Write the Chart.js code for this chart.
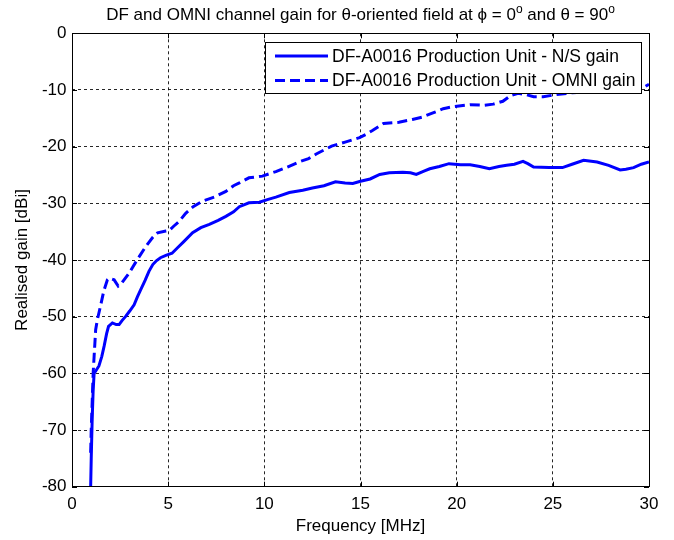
<!DOCTYPE html>
<html>
<head>
<meta charset="utf-8">
<script src="https://cdn.jsdelivr.net/npm/chart.js@4.4.1/dist/chart.umd.min.js"></script>
<style>
html,body{margin:0;padding:0;background:#fff;}
#wrap{width:674px;height:540px;}
</style>
</head>
<body>
<div id="wrap"><canvas id="c" width="674" height="540"></canvas></div>
<script>
// title pieces: [text, isSuperscript]
const titleParts = [['DF and OMNI channel gain for \u03B8-oriented field at \u03D5 = 0', false], ['o', true], [' and \u03B8 = 90', false], ['o', true]];
const xTitle = 'Frequency [MHz]';
const yTitle = 'Realised gain [dBi]';
const seriesLabels = ['DF-A0016 Production Unit - N/S gain', 'DF-A0016 Production Unit - OMNI gain'];
const xTicks = [0, 5, 10, 15, 20, 25, 30];
const yTicks = [-80, -70, -60, -50, -40, -30, -20, -10, 0];

const nsFreq = [0.97,1.0,1.05,1.1,1.15,1.25,1.4,1.55,1.67,1.8,1.9,2.1,2.3,2.45,2.6,2.8,3.0,3.23,3.4,3.58,3.8,4.0,4.2,4.4,4.6,4.88,5.2,5.5,5.8,6.27,6.7,7.14,7.6,8.0,8.4,8.7,9.2,9.74,10.2,10.6,11.3,12.0,12.5,13.1,13.7,14.2,14.6,15.0,15.5,16.0,16.5,17.2,17.6,17.9,18.3,18.6,19.1,19.6,20.2,20.7,21.2,21.7,22.2,22.6,23.0,23.45,23.7,24.0,24.8,25.5,26.0,26.6,27.3,27.9,28.5,28.8,29.2,29.6,30.0];
const nsGain = [-80,-75,-68,-63,-60,-59.5,-58.7,-57,-55.2,-53,-51.7,-51.1,-51.4,-51.4,-50.7,-49.9,-49,-47.9,-46.5,-45.2,-43.6,-42,-40.8,-40.1,-39.6,-39.2,-38.8,-37.8,-36.8,-35.2,-34.3,-33.7,-33,-32.3,-31.5,-30.6,-29.9,-29.8,-29.3,-28.9,-28.1,-27.7,-27.3,-26.9,-26.2,-26.4,-26.5,-26.1,-25.7,-24.9,-24.6,-24.5,-24.6,-24.9,-24.3,-23.9,-23.5,-23.0,-23.2,-23.2,-23.5,-23.9,-23.5,-23.3,-23.1,-22.6,-23.0,-23.6,-23.7,-23.7,-23.1,-22.4,-22.7,-23.3,-24.1,-24.0,-23.7,-23.1,-22.7];

const omniFreq = [0.97,1.0,1.06,1.1,1.15,1.23,1.32,1.49,1.65,1.84,1.93,2.19,2.4,2.6,2.97,3.4,3.84,4.2,4.45,4.88,5.05,5.3,5.57,5.9,6.3,6.8,7.4,8.0,8.4,8.7,9.2,9.9,10.6,11.2,11.8,12.3,12.7,13.1,13.5,14.2,14.95,15.3,15.6,16.2,17.0,17.7,18.2,18.8,19.3,19.9,20.7,21.4,21.9,22.4,22.8,23.2,23.6,24.0,24.5,25.2,26.0,27.0,28.0,29.0,29.6,30.0];
const omniGain = [-74,-70,-64,-60,-57,-52.3,-50.5,-48,-45.5,-43.5,-43.2,-43.5,-44.6,-44,-42.3,-39.9,-37.6,-36,-35.2,-34.9,-34.8,-34,-33.2,-31.8,-30.6,-29.6,-28.9,-27.9,-26.9,-26.4,-25.5,-25.2,-24.4,-23.6,-22.7,-22.1,-21.3,-20.6,-19.9,-19.2,-18.4,-17.8,-17.2,-15.9,-15.7,-15.2,-14.8,-14.0,-13.3,-12.9,-12.6,-12.7,-12.5,-12.0,-11.0,-10.6,-10.8,-11.2,-11.2,-10.8,-10.5,-10.3,-10.0,-9.8,-9.8,-9.0];

const FONT = '"Liberation Sans", Arial, Helvetica, sans-serif';
const BLUE = '#0000ff';

function pts(xs, ys){ return xs.map((x,i)=>({x:x, y:ys[i]})); }

const frameAndLegend = {
  id: 'frameAndLegend',
  afterDraw(chart){
    const {ctx, chartArea:a, scales:{x, y}} = chart;
    ctx.save();
    // title centred over the axes, with superscripts
    const mainFont = '17px ' + FONT, supFont = '12px ' + FONT;
    let total = 0;
    titleParts.forEach(([t, sup])=>{ ctx.font = sup ? supFont : mainFont; total += ctx.measureText(t).width; });
    let tx = (a.left + a.right) / 2 - total / 2;
    ctx.fillStyle = '#000';
    ctx.textAlign = 'left';
    ctx.textBaseline = 'alphabetic';
    titleParts.forEach(([t, sup])=>{
      ctx.font = sup ? supFont : mainFont;
      ctx.fillText(t, tx, sup ? 13 : 20);
      tx += ctx.measureText(t).width;
    });
    ctx.restore();
  },
  afterDatasetsDraw(chart){
    const {ctx, chartArea:a, scales:{x, y}} = chart;
    ctx.save();
    // inward tick marks (MATLAB style)
    ctx.strokeStyle = '#000';
    ctx.lineWidth = 1;
    ctx.setLineDash([]);
    ctx.beginPath();
    const tl = 5;
    xTicks.forEach(v=>{
      const px = Math.round(x.getPixelForValue(v)) + 0.5;
      ctx.moveTo(px, a.bottom); ctx.lineTo(px, a.bottom - tl);
      ctx.moveTo(px, a.top); ctx.lineTo(px, a.top + tl);
    });
    yTicks.forEach(v=>{
      const py = Math.round(y.getPixelForValue(v)) + 0.5;
      ctx.moveTo(a.left, py); ctx.lineTo(a.left + tl, py);
      ctx.moveTo(a.right, py); ctx.lineTo(a.right - tl, py);
    });
    ctx.stroke();
    // box
    ctx.strokeRect(Math.round(a.left)+0.5, Math.round(a.top)+0.5, Math.round(a.right-a.left), Math.round(a.bottom-a.top));

    // legend box
    const lx = 265.5, ly = 42.5, lw = 376, lh = 51;
    ctx.fillStyle = '#fff';
    ctx.fillRect(lx, ly, lw, lh);
    ctx.strokeStyle = '#000';
    ctx.strokeRect(lx, ly, lw, lh);
    const rows = [56, 80.5];
    chart.data.datasets.forEach((ds, i)=>{
      ctx.beginPath();
      ctx.strokeStyle = ds.borderColor;
      ctx.lineWidth = ds.borderWidth;
      ctx.setLineDash(ds.borderDash || []);
      ctx.moveTo(275, rows[i]);
      ctx.lineTo(328, rows[i]);
      ctx.stroke();
      ctx.setLineDash([]);
      ctx.fillStyle = '#000';
      ctx.font = '17.5px ' + FONT;
      ctx.textAlign = 'left';
      ctx.textBaseline = 'middle';
      ctx.fillText(ds.label, 332, rows[i] + 1);
    });
    ctx.restore();
  }
};

new Chart(document.getElementById('c'), {
  type: 'line',
  data: {
    datasets: [
      { label: seriesLabels[0], data: pts(nsFreq, nsGain), borderColor: BLUE, borderWidth: 3, pointRadius: 0, tension: 0, fill: false },
      { label: seriesLabels[1], data: pts(omniFreq, omniGain), borderColor: BLUE, borderWidth: 3, borderDash: [10,5], pointRadius: 0, tension: 0, fill: false }
    ]
  },
  options: {
    responsive: false,
    animation: false,
    devicePixelRatio: 1,
    layout: { padding: { left: 0, right: 25, top: 33.3, bottom: 0 } },
    plugins: {
      legend: { display: false },
      tooltip: { enabled: false },
      title: { display: false }
    },
    scales: {
      x: {
        type: 'linear', min: 0, max: 30,
        afterBuildTicks(s){ s.ticks = xTicks.map(v=>({value:v})); },
        afterFit(s){ s.height = 53.3; },
        ticks: { color: '#000', padding: 7.5, font: { family: FONT, size: 17 }, maxRotation: 0, autoSkip: false },
        grid: { color: 'rgba(0,0,0,0.85)', lineWidth: 1, drawTicks: false },
        border: { display: false, dash: [3,3] },
        title: { display: true, text: xTitle, color: '#000', font: { family: FONT, size: 17, lineHeight: 1.2 }, padding: { top: 0, bottom: 3 } }
      },
      y: {
        type: 'linear', min: -80, max: 0,
        afterBuildTicks(s){ s.ticks = yTicks.map(v=>({value:v})); },
        afterFit(s){ s.width = 72; },
        ticks: { color: '#000', padding: 5.5, font: { family: FONT, size: 17 }, autoSkip: false },
        grid: { color: 'rgba(0,0,0,0.85)', lineWidth: 1, drawTicks: false },
        border: { display: false, dash: [3,3] },
        title: { display: true, text: yTitle, color: '#000', font: { family: FONT, size: 17, lineHeight: 1.2 }, padding: { top: 12.5, bottom: 0 } }
      }
    }
  },
  plugins: [frameAndLegend]
});
</script>
</body>
</html>
